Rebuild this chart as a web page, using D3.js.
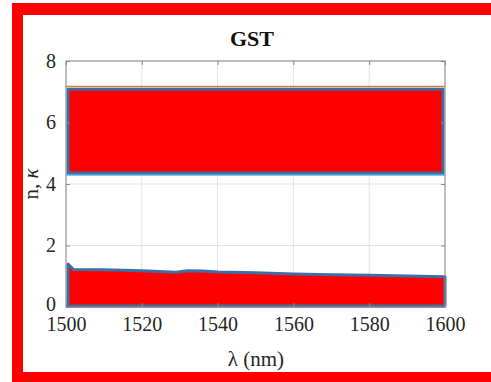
<!DOCTYPE html>
<html>
<head>
<meta charset="utf-8">
<script src="https://cdn.jsdelivr.net/npm/d3@7"></script>
<style>
  html, body { margin: 0; padding: 0; background: #fff; }
  svg { display: block; }
  svg text { font-family: "Liberation Serif", "Times New Roman", Times, "DejaVu Serif", serif; }
</style>
</head>
<body>
<script>
// Wavelength samples (nm)
const wavelength = [1500, 1502, 1510, 1520, 1526, 1529, 1532, 1536, 1540, 1550, 1560, 1570, 1580, 1590, 1600];
// Refractive index n (upper band edges)
const nTop    = [7.08, 7.08, 7.08, 7.08, 7.08, 7.08, 7.08, 7.08, 7.08, 7.08, 7.08, 7.08, 7.08, 7.08, 7.08];
const nBottom = [4.36, 4.36, 4.36, 4.36, 4.36, 4.36, 4.36, 4.36, 4.36, 4.36, 4.36, 4.36, 4.36, 4.36, 4.36];
// Extinction coefficient κ (lower band top edge)
const kappa   = [1.40, 1.22, 1.21, 1.18, 1.15, 1.13, 1.18, 1.17, 1.14, 1.11, 1.07, 1.05, 1.03, 1.01, 0.98];
// Reference lines
const orangeLevel = 7.17;
const cyanLevel = 4.29;
const yellowLevel = 0.02;

const xTicks = [1500, 1520, 1540, 1560, 1580, 1600];
const yTicks = [0, 2, 4, 6, 8];

const W = 491, H = 382;
const margin = { left: 66, right: W - 445, top: 61, bottom: H - 307 };

const svg = d3.select("body").append("svg")
  .attr("width", W).attr("height", H);

// Red frame
svg.append("rect").attr("x", 12).attr("y", 3).attr("width", W - 12).attr("height", H - 3).attr("fill", "#ff0000");
svg.append("rect").attr("x", 23).attr("y", 15).attr("width", W - 23).attr("height", 372 - 15).attr("fill", "#ffffff");

const x = d3.scaleLinear().domain([1500, 1600]).range([margin.left, W - margin.right]);
const y = d3.scaleLinear().domain([0, 8]).range([H - margin.bottom, margin.top]);

const font = "'Liberation Serif', 'Times New Roman', Times, 'DejaVu Serif', serif";

// Grid
const grid = svg.append("g");
xTicks.forEach(t => grid.append("line")
  .attr("x1", x(t)).attr("x2", x(t)).attr("y1", y(0)).attr("y2", y(8))
  .attr("stroke", "#e3e3e3").attr("stroke-width", 1));
yTicks.forEach(t => grid.append("line")
  .attr("x1", x(1500)).attr("x2", x(1600)).attr("y1", y(t)).attr("y2", y(t))
  .attr("stroke", "#e3e3e3").attr("stroke-width", 1));

const data = wavelength.map((w, i) => ({ w, top: nTop[i], bot: nBottom[i], k: kappa[i] }));

// Reference lines
const hline = (v, c) => svg.append("line")
  .attr("x1", x(1500)).attr("x2", x(1600)).attr("y1", y(v)).attr("y2", y(v))
  .attr("stroke", c).attr("stroke-width", 1.5);
hline(orangeLevel, "#e0783a");
hline(cyanLevel, "#4dbeee");
hline(yellowLevel, "#edb120");

// n band
svg.append("path")
  .attr("d", d3.area()
    .x(d => x(d.w) + (d.w === 1500 ? 2 : d.w === 1600 ? -2 : 0))
    .y0(d => y(d.bot)).y1(d => y(d.top))(data))
  .attr("fill", "#ff0000").attr("stroke", "#3d6fa6").attr("stroke-width", 3)
  .attr("stroke-linejoin", "round");

// κ band
svg.append("path")
  .attr("d", d3.area()
    .x(d => x(d.w) + (d.w === 1500 ? 2 : 0))
    .y0(() => y(0) - 1).y1(d => y(d.k))(data))
  .attr("fill", "#ff0000").attr("stroke", "#3d6fa6").attr("stroke-width", 3)
  .attr("stroke-linejoin", "round");

// Axes box with inward ticks
const axisColor = "#8a8a8a";
svg.append("rect")
  .attr("x", x(1500)).attr("y", y(8)).attr("width", x(1600) - x(1500)).attr("height", y(0) - y(8))
  .attr("fill", "none").attr("stroke", axisColor).attr("stroke-width", 1);

const xb = svg.append("g").attr("transform", `translate(0,${y(0)})`)
  .call(d3.axisBottom(x).tickValues(xTicks).tickSizeInner(-4).tickSizeOuter(0).tickPadding(10).tickFormat(d3.format("d")));
const xt = svg.append("g").attr("transform", `translate(0,${y(8)})`)
  .call(d3.axisTop(x).tickValues(xTicks).tickSizeInner(-4).tickSizeOuter(0).tickFormat(""));
const yl = svg.append("g").attr("transform", `translate(${x(1500)},0)`)
  .call(d3.axisLeft(y).tickValues(yTicks).tickSizeInner(-4).tickSizeOuter(0).tickPadding(10).tickFormat(d3.format("d")));
const yr = svg.append("g").attr("transform", `translate(${x(1600)},0)`)
  .call(d3.axisRight(y).tickValues(yTicks).tickSizeInner(-4).tickSizeOuter(0).tickFormat(""));

[xb, xt, yl, yr].forEach(g => {
  g.attr("font-family", font);
  g.select(".domain").remove();
  g.selectAll(".tick line").attr("stroke", axisColor);
  g.selectAll(".tick text").style("font-family", font).attr("font-size", 20).attr("fill", "#262626");
});
// lift the "0" label a little so it clears the "1500" label below it
yl.selectAll(".tick text").filter(d => d === 0).attr("dy", "0.15em");

// Title
svg.append("text").attr("x", 252).attr("y", 46).attr("text-anchor", "middle")
  .style("font-family", font).attr("font-weight", "bold").attr("font-size", 22).attr("fill", "#111")
  .text("GST");

// X label
svg.append("text").attr("x", 256).attr("y", 366).attr("text-anchor", "middle")
  .style("font-family", font).attr("font-size", 21).attr("fill", "#262626")
  .text("λ (nm)");

// Y label
const ylab = svg.append("text")
  .attr("transform", `translate(38,${y(4)}) rotate(-90)`)
  .attr("text-anchor", "middle")
  .style("font-family", font).attr("font-size", 21).attr("fill", "#262626");
ylab.append("tspan").text("n, ");
ylab.append("tspan").attr("font-style", "italic").text("κ");
</script>
</body>
</html>
